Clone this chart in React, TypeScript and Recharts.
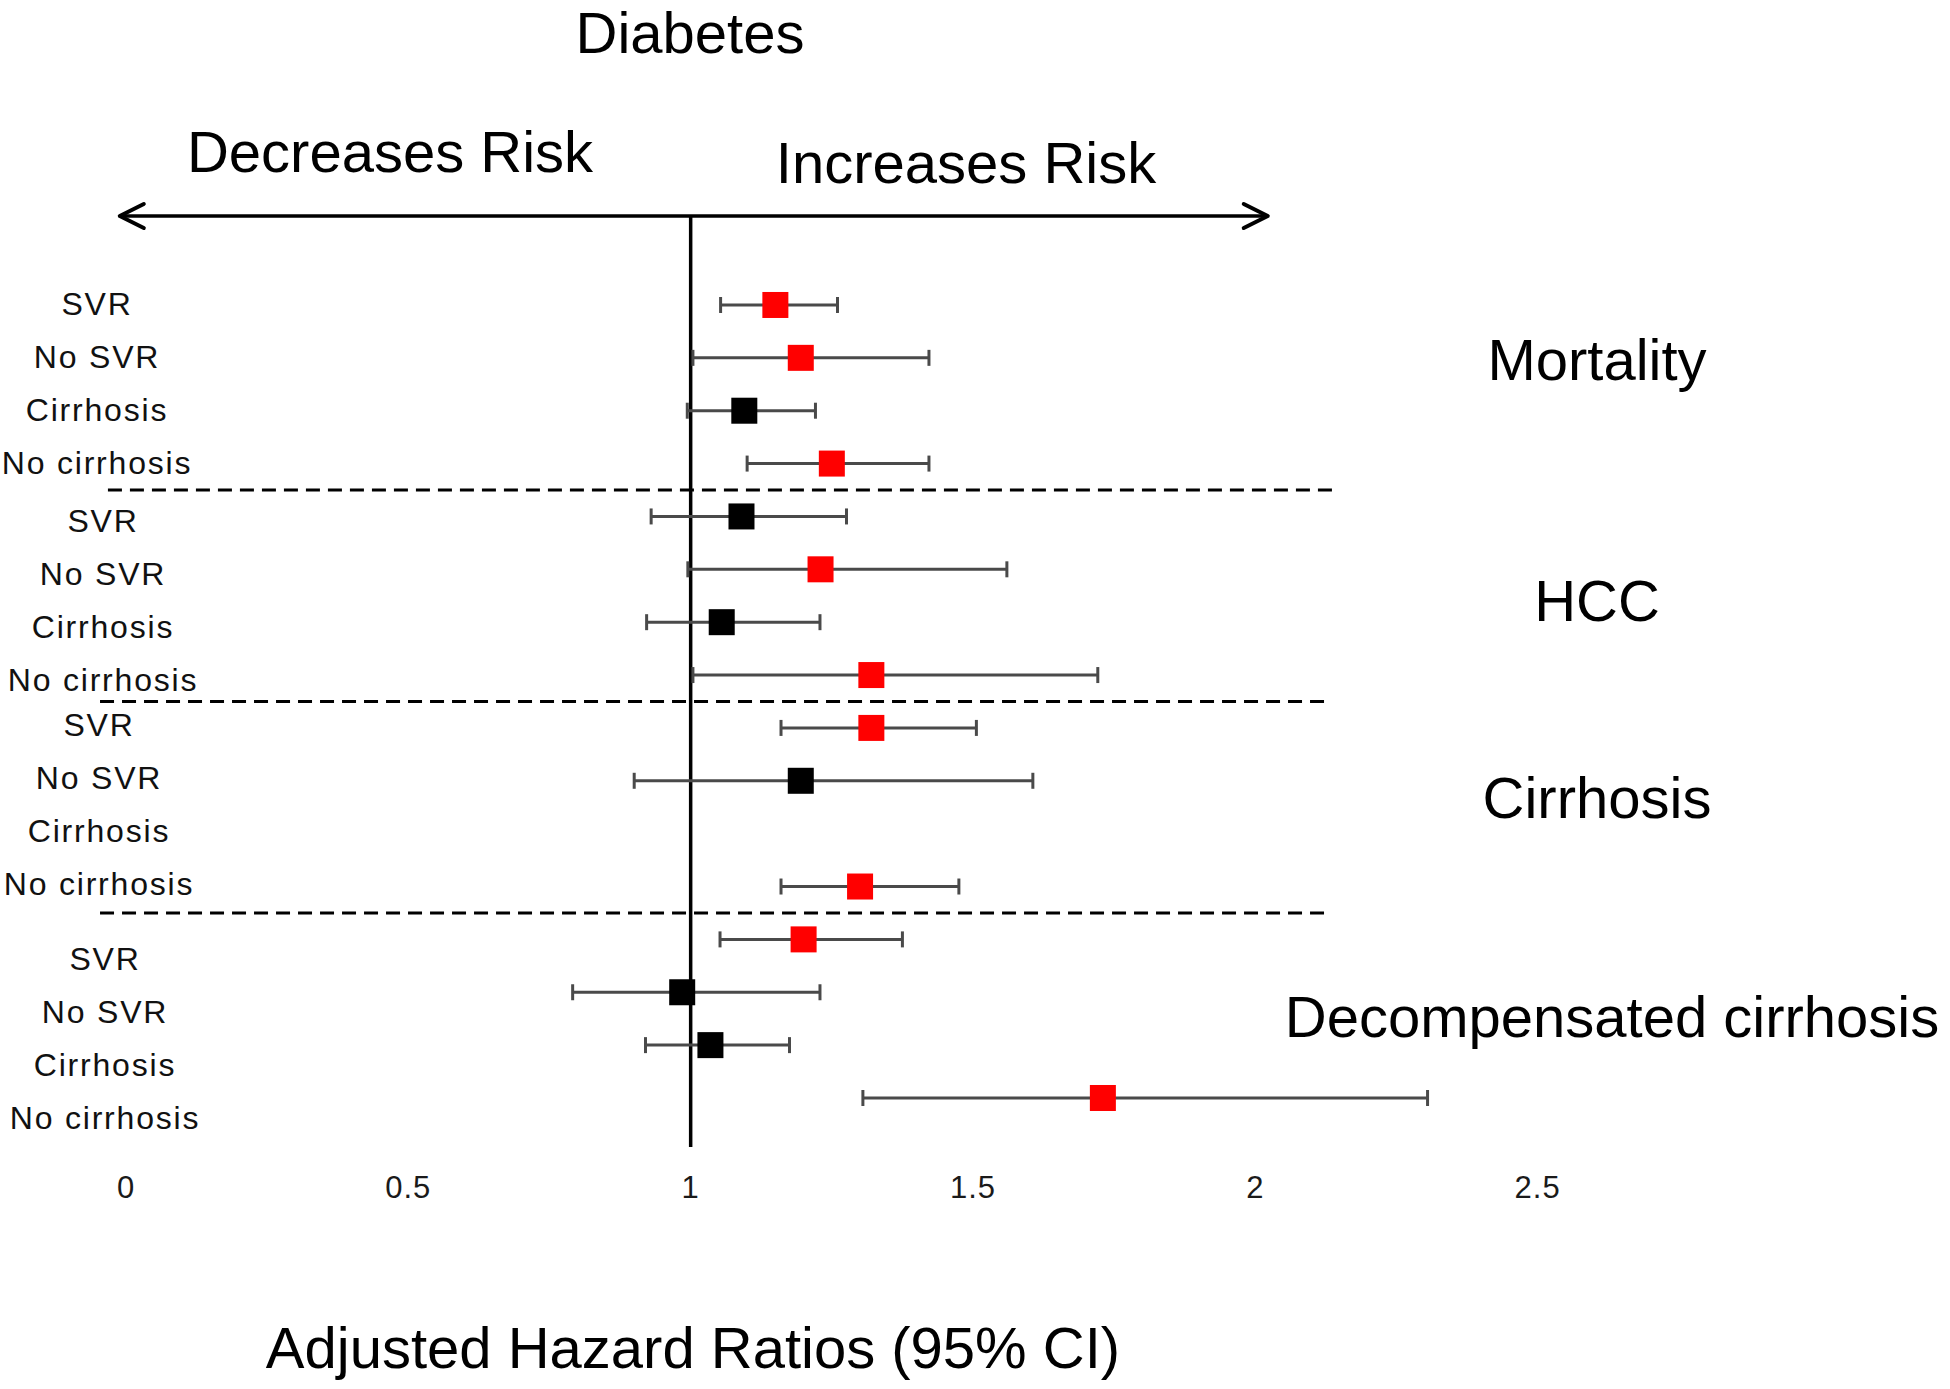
import React from 'react';
import { ScatterChart, Scatter, XAxis, YAxis, ErrorBar, ReferenceLine } from 'recharts';

// ---- data ----
const OUTCOMES = ['Mortality', 'HCC', 'Cirrhosis', 'Decompensated cirrhosis'];
const SUBGROUPS = ['SVR', 'No SVR', 'Cirrhosis', 'No cirrhosis'];
// adjusted hazard ratios per row (outcome x subgroup), null = not reported
const HR = [1.15, 1.195, 1.095, 1.25, 1.09, 1.23, 1.055, 1.32, 1.32, 1.195, null, 1.30, 1.2, 0.985, 1.035, 1.73];
const CI_LOW = [1.053, 1.004, 0.994, 1.1, 0.93, 0.995, 0.922, 1.004, 1.16, 0.9, null, 1.16, 1.052, 0.791, 0.92, 1.305];
const CI_HIGH = [1.26, 1.422, 1.221, 1.422, 1.276, 1.56, 1.229, 1.721, 1.506, 1.606, null, 1.475, 1.375, 1.229, 1.175, 2.305];
const SIGNIFICANT = [true, true, false, true, false, true, false, true, true, false, false, true, true, false, false, true];
const X_TICKS = [0, 0.5, 1, 1.5, 2, 2.5];
const SEPARATORS = [3.5, 7.5, 11.5];

// ---- derived tables ----
const ROWS = OUTCOMES.flatMap((o, g) => SUBGROUPS.map((s, k) => ({ row: g * 4 + k, group: g, label: s })));
const POINTS = ROWS.filter((r) => HR[r.row] != null).map((r) => ({
  row: r.row,
  hr: HR[r.row] as number,
  err: [(HR[r.row] as number) - (CI_LOW[r.row] as number), (CI_HIGH[r.row] as number) - (HR[r.row] as number)],
  sig: SIGNIFICANT[r.row],
}));
const RED_POINTS = POINTS.filter((p) => p.sig);
const BLACK_POINTS = POINTS.filter((p) => !p.sig);
const ROW_TICKS = ROWS.map((r) => r.row);

const FONT = '"Liberation Sans", Arial, Helvetica, sans-serif';

// style constants (label placement per outcome block)
const GROUP_LABEL_X = [97, 103, 99, 105];
const GROUP_LABEL_DY = [-1, 5, -3, 20];

const Square = (props: any) => {
  const { cx, cy, fill } = props;
  if (cx == null || cy == null) return null;
  return <rect x={cx - 13} y={cy - 13} width={26} height={26} fill={fill} />;
};

const XTick = (props: any) => {
  const { x, y, payload } = props;
  return (
    <text x={x} y={y + 51} textAnchor="middle" fontFamily={FONT} fontSize={31} letterSpacing={1} fill="#1a1a1a">
      {payload.value}
    </text>
  );
};

const YTick = (props: any) => {
  const { y, payload } = props;
  const r = ROWS[payload.value];
  if (!r) return null;
  return (
    <text
      x={GROUP_LABEL_X[r.group]}
      y={y + GROUP_LABEL_DY[r.group] + 11}
      textAnchor="middle"
      fontFamily={FONT}
      fontSize={32}
      letterSpacing={1.8}
      fill="#111"
    >
      {r.label}
    </text>
  );
};

const ArrowShape = (props: any) => {
  const { x1, y1, x2, y2 } = props;
  const a = 24;
  const b = 12;
  return (
    <g>
      <line x1={x1 + 2} y1={y1} x2={x2 - 2} y2={y2} stroke="#000" strokeWidth={3.5} />
      <polyline
        points={`${x1 + a},${y1 - b} ${x1},${y1} ${x1 + a},${y1 + b}`}
        fill="none"
        stroke="#000"
        strokeWidth={4}
        strokeLinejoin="round"
        strokeLinecap="round"
      />
      <polyline
        points={`${x2 - a},${y2 - b} ${x2},${y2} ${x2 - a},${y2 + b}`}
        fill="none"
        stroke="#000"
        strokeWidth={4}
        strokeLinejoin="round"
        strokeLinecap="round"
      />
    </g>
  );
};

const OUTCOME_LABEL_POS = [
  { x: 1597, y: 380, size: 58 },
  { x: 1597, y: 621, size: 58 },
  { x: 1597, y: 818, size: 58 },
  { x: 1612, y: 1037, size: 58 },
];

export default function App() {
  const yDomain: [number, number] = [-1.683, 15.927];
  return (
    <div style={{ position: 'absolute', left: 0, top: 0, width: 1950, height: 1389, background: '#fff' }}>
      <ScatterChart width={1950} height={1389} margin={{ top: 216, right: 130, bottom: 0, left: 0 }}>
        <XAxis
          type="number"
          dataKey="hr"
          domain={[0, 3]}
          ticks={X_TICKS}
          interval={0}
          allowDataOverflow
          axisLine={false}
          tickLine={false}
          tickSize={0}
          tickMargin={0}
          height={242}
          tick={<XTick />}
        />
        <YAxis
          type="number"
          dataKey="row"
          domain={yDomain}
          reversed
          allowDataOverflow
          ticks={ROW_TICKS}
          interval={0}
          axisLine={false}
          tickLine={false}
          width={126}
          tick={<YTick />}
        />
        <ReferenceLine
          segment={[{ x: -0.011, y: yDomain[0] }, { x: 2.022, y: yDomain[0] }]}
          ifOverflow="visible"
          shape={<ArrowShape />}
        />
        <ReferenceLine x={1} stroke="#000" strokeWidth={3.5} ifOverflow="visible" />
        {SEPARATORS.map((s, i) => (
          <ReferenceLine
            key={s}
            segment={[
              { x: i === 0 ? -0.032 : -0.046, y: s },
              { x: i === 0 ? 2.148 : 2.134, y: s },
            ]}
            stroke="#000"
            strokeWidth={3}
            strokeDasharray="14 8"
            ifOverflow="visible"
          />
        ))}
        <Scatter data={BLACK_POINTS} fill="#000000" shape={Square} isAnimationActive={false}>
          <ErrorBar dataKey="err" direction="x" width={8} stroke="#4a4a4a" strokeWidth={3} />
        </Scatter>
        <Scatter data={RED_POINTS} fill="#ff0000" shape={Square} isAnimationActive={false}>
          <ErrorBar dataKey="err" direction="x" width={8} stroke="#4a4a4a" strokeWidth={3} />
        </Scatter>
      </ScatterChart>
      <svg
        width={1950}
        height={1389}
        style={{ position: 'absolute', left: 0, top: 0, pointerEvents: 'none' }}
        fontFamily={FONT}
      >
        <text x={690} y={53} textAnchor="middle" fontSize={58} fill="#000">Diabetes</text>
        <text x={390} y={172} textAnchor="middle" fontSize={58} fill="#000">Decreases Risk</text>
        <text x={966} y={183} textAnchor="middle" fontSize={58} fill="#000">Increases Risk</text>
        {OUTCOMES.map((o, i) => (
          <text key={o} x={OUTCOME_LABEL_POS[i].x} y={OUTCOME_LABEL_POS[i].y} textAnchor="middle" fontSize={OUTCOME_LABEL_POS[i].size} fill="#000">
            {o}
          </text>
        ))}
        <text x={693} y={1368} textAnchor="middle" fontSize={58} fill="#000">Adjusted Hazard Ratios (95% CI)</text>
      </svg>
    </div>
  );
}
